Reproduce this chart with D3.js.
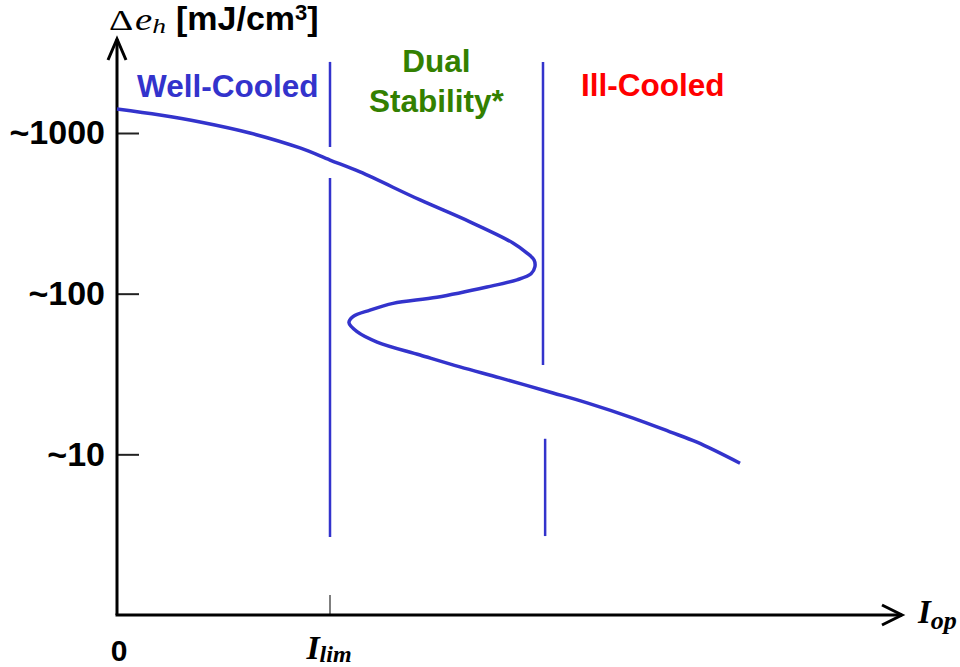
<!DOCTYPE html>
<html>
<head>
<meta charset="utf-8">
<script src="https://cdn.jsdelivr.net/npm/d3@7"></script>
<style>
  body { margin: 0; background: #fff; }
  svg { display: block; }
</style>
</head>
<body>
<svg width="960" height="667"></svg>
<script>
// DATA (I in units of I_lim, e in mJ/cm3)

// the S-shaped curve
const curveI = [0, 0.202, 0.390, 0.624, 0.859, 1.000, 1.141, 1.423, 1.657, 1.859, 1.925, 1.958,
                1.962, 1.944, 1.878, 1.737, 1.502, 1.296, 1.188, 1.108, 1.089, 1.127, 1.221,
                1.423, 1.610, 1.798, 2.047, 2.207, 2.423, 2.596, 2.723, 2.925];
const curveE = [1410, 1294, 1171, 1000, 807, 679, 572, 383, 280, 207, 179, 162,
                147, 133, 122, 110, 95, 87, 79, 72, 66, 58, 50,
                41.5, 35, 29.9, 24.1, 20.9, 16.8, 13.8, 11.9, 8.8];

// y ticks
const yTickValues = [10, 100, 1000];
const yTickLabels = ["~10", "~100", "~1000"];

// boundary lines (each one is broken where the curve passes)
const boundaryI      = [1.0, 1.0, 2.0, 2.01];
const boundaryTop    = [2770, 525, 2770, 12.5];
const boundaryBottom = [818, 3.06, 36, 3.1];

// region names
const regionNames  = [["Well-Cooled"], ["Dual", "Stability*"], ["Ill-Cooled"]];
const regionI      = [0.52, 1.5, 2.515];
const regionColors = ["#3333cc", "#338000", "#ff0000"];

const blue = "#3333cc";

var svg = d3.select("svg"),
    width = +svg.attr("width"),
    height = +svg.attr("height");

// scales
const x = d3.scaleLinear().domain([0, 1]).range([117, 330]);
const y = d3.scaleLog().domain([1, 1000]).range([615, 133]);

const sans = "'Liberation Sans', Arial, sans-serif";
const serif = "'Liberation Serif', 'Times New Roman', serif";

// y axis ticks, pointing inward
let yAxis = svg.append("g")
    .attr("transform", "translate(" + x(0) + ",0)")
    .call(d3.axisLeft(y)
        .tickValues(yTickValues)
        .tickSizeInner(-22)
        .tickSizeOuter(0)
        .tickPadding(12)
        .tickFormat((d, i) => yTickLabels[i]));
yAxis.select(".domain").remove();
yAxis.selectAll(".tick line").attr("stroke", "#222").attr("stroke-width", 2);
yAxis.selectAll(".tick text")
    .attr("fill", "#000")
    .style("font-family", sans)
    .style("font-weight", "bold")
    .style("font-size", "34px");

// I_lim tick on the x axis
svg.append("line")
    .attr("x1", x(1)).attr("x2", x(1))
    .attr("y1", y(1)).attr("y2", y(1) - 20)
    .attr("stroke", "#555")
    .attr("stroke-width", 1.5);

// axes with open arrowheads
let axisTopY = 39, axisRightX = 902;
svg.append("path")
    .attr("d", "M" + x(0) + "," + y(1) + "V" + axisTopY)
    .attr("stroke", "#000").attr("stroke-width", 3).attr("fill", "none");
svg.append("path")
    .attr("d", "M" + (x(0) - 9) + "," + (axisTopY + 21) + "L" + x(0) + "," + axisTopY + "L" + (x(0) + 9) + "," + (axisTopY + 21))
    .attr("stroke", "#000").attr("stroke-width", 3).attr("fill", "none");
svg.append("path")
    .attr("d", "M" + (x(0) - 1.5) + "," + y(1) + "H" + axisRightX)
    .attr("stroke", "#000").attr("stroke-width", 3).attr("fill", "none");
svg.append("path")
    .attr("d", "M" + (axisRightX - 20) + "," + (y(1) - 10) + "L" + axisRightX + "," + y(1) + "L" + (axisRightX - 20) + "," + (y(1) + 10))
    .attr("stroke", "#000").attr("stroke-width", 3).attr("fill", "none");

// boundary lines
svg.append("g")
    .selectAll("line")
    .data(boundaryI)
    .enter()
    .append("line")
    .attr("x1", d => x(d)).attr("x2", d => x(d))
    .attr("y1", (d, i) => y(boundaryTop[i]))
    .attr("y2", (d, i) => y(boundaryBottom[i]))
    .attr("stroke", blue)
    .attr("stroke-width", 2.5);

// the curve
const curveData = curveI.map((d, i) => [d, curveE[i]]);
svg.append("path")
    .datum(curveData)
    .attr("d", d3.line()
        .x(d => x(d[0]))
        .y(d => y(d[1]))
        .curve(d3.curveCatmullRom.alpha(0.5)))
    .attr("fill", "none")
    .attr("stroke", blue)
    .attr("stroke-width", 3.5)
    .attr("stroke-linejoin", "round");

// region labels
let regionBaselines = [[97], [71.5, 111.5], [95.5]];
regionNames.forEach((lines, r) => {
    let t = svg.append("text")
        .attr("text-anchor", "middle")
        .attr("fill", regionColors[r])
        .style("font-family", sans)
        .style("font-weight", "bold")
        .style("font-size", "31.5px");
    lines.forEach((s, k) => {
        t.append("tspan")
            .attr("x", x(regionI[r]))
            .attr("y", regionBaselines[r][k])
            .text(s);
    });
});

// x labels
svg.append("text")
    .attr("x", x(0) + 2)
    .attr("y", 661)
    .attr("text-anchor", "middle")
    .style("font-family", sans)
    .style("font-weight", "bold")
    .style("font-size", "30px")
    .text("0");

let ilim = svg.append("text")
    .attr("x", x(1) - 1)
    .attr("y", 659)
    .attr("text-anchor", "middle")
    .style("font-family", serif)
    .style("font-weight", "bold")
    .style("font-style", "italic")
    .style("font-size", "34px");
ilim.append("tspan").text("I");
ilim.append("tspan").attr("dy", 3).style("font-size", "24px").text("lim");

let iop = svg.append("text")
    .attr("x", 918)
    .attr("y", 623)
    .style("font-family", serif)
    .style("font-weight", "bold")
    .style("font-style", "italic")
    .style("font-size", "33px");
iop.append("tspan").text("I");
iop.append("tspan").attr("dy", 6).style("font-size", "26px").text("op");

// y axis title
svg.append("text")
    .attr("transform", "translate(109,30) scale(1.3,1)")
    .style("font-family", serif)
    .style("font-size", "29px")
    .text("\u0394");
let eh = svg.append("text")
    .attr("transform", "translate(135,30) scale(1.25,1)")
    .style("font-family", serif)
    .style("font-style", "italic")
    .style("font-size", "31px");
eh.append("tspan").text("e");
eh.append("tspan").attr("dy", 3).style("font-size", "22px").text("h");

let unit = svg.append("text")
    .attr("x", 176)
    .attr("y", 30)
    .style("font-family", sans)
    .style("font-weight", "bold")
    .style("font-size", "34px");
unit.append("tspan").text("[mJ/cm");
unit.append("tspan").attr("dy", -10).style("font-size", "22px").text("3");
unit.append("tspan").attr("dy", 10).text("]");
</script>
</body>
</html>
